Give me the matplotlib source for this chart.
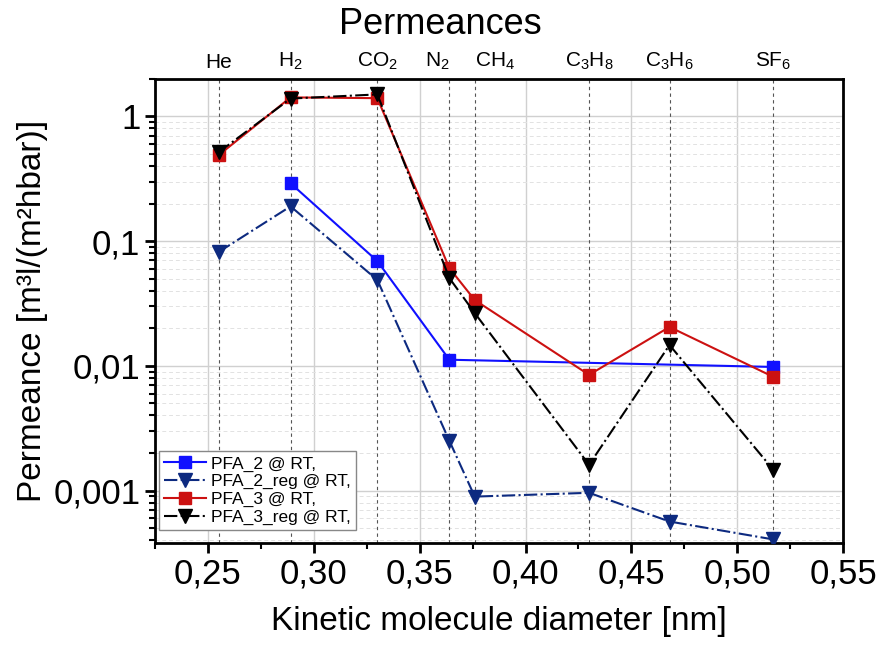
import matplotlib
matplotlib.use('Agg')
from matplotlib import pyplot as plt
from matplotlib.ticker import FixedLocator, FuncFormatter, LogLocator, MultipleLocator, NullFormatter

plt.rcParams['font.family'] = ['Liberation Sans', 'DejaVu Sans']
plt.rcParams['mathtext.fontset'] = 'custom'
plt.rcParams['mathtext.rm'] = 'Liberation Sans'
plt.rcParams['mathtext.it'] = 'Liberation Sans'
plt.rcParams['mathtext.default'] = 'regular'

# gases and kinetic diameters [nm]
gases = ['He', 'H$_2$', 'CO$_2$', 'N$_2$', 'CH$_4$', 'C$_3$H$_8$', 'C$_3$H$_6$', 'SF$_6$']
diameters = [0.255, 0.289, 0.330, 0.364, 0.376, 0.430, 0.468, 0.517]

# PFA_2 only measured for H2, CO2, N2, SF6
pfa2_x = [0.289, 0.330, 0.364, 0.517]
pfa2 = [0.291, 0.0692, 0.0112, 0.0098]

pfa2_reg = [0.0817, 0.19, 0.0488, 0.00251, 0.000895, 0.00096, 0.000565, 0.000406]
pfa3 = [0.488, 1.42, 1.40, 0.0608, 0.0337, 0.00847, 0.0205, 0.00817]
pfa3_reg = [0.515, 1.39, 1.50, 0.0506, 0.0265, 0.00161, 0.0147, 0.00147]

fig = plt.figure(figsize=(8.81, 6.57), dpi=100)
ax = fig.add_axes([0.176, 0.1735, 0.781, 0.7065])

ax.plot(pfa2_x, pfa2, color='#1010ff', linestyle='-', linewidth=1.5,
        marker='s', markersize=9, label='PFA_2 @ RT,', zorder=5)
ax.plot(diameters, pfa2_reg, color='#0d2a80', linestyle='-.', linewidth=1.5,
        marker='v', markersize=10, label='PFA_2_reg @ RT,', zorder=5)
ax.plot(diameters, pfa3, color='#cc1111', linestyle='-', linewidth=1.5,
        marker='s', markersize=9, label='PFA_3 @ RT,', zorder=5)
ax.plot(diameters, pfa3_reg, color='black', linestyle='-.', linewidth=1.5,
        marker='v', markersize=10, label='PFA_3_reg @ RT,', zorder=6)

ax.set_yscale('log')
ax.set_xlim(0.225, 0.55)
ax.set_ylim(3.8e-4, 2.0)

# gas positions as dashed lines
for d in diameters:
    ax.axvline(d, color='#555555', linestyle=(0, (3, 3)), linewidth=0.8, zorder=1)

ax.xaxis.set_major_locator(MultipleLocator(0.05))
ax.xaxis.set_minor_locator(MultipleLocator(0.025))
ax.xaxis.set_major_formatter(FuncFormatter(lambda v, p: ('%.2f' % v).replace('.', ',')))

ax.yaxis.set_major_locator(FixedLocator([0.001, 0.01, 0.1, 1]))
ax.yaxis.set_minor_locator(LogLocator(base=10, subs=range(2, 10)))
ax.yaxis.set_minor_formatter(NullFormatter())
ax.yaxis.set_major_formatter(FuncFormatter(lambda v, p: {0.001: '0,001', 0.01: '0,01', 0.1: '0,1', 1: '1'}.get(round(v, 3), '')))

ax.grid(True, which='major', axis='both', color='#d0d0d0', linewidth=1.0, zorder=0)
ax.grid(True, which='minor', axis='y', color='#e2e2e2', linestyle=(0, (4, 3)), linewidth=0.7, zorder=0)
ax.set_axisbelow(True)

for s in ax.spines.values():
    s.set_linewidth(2)
ax.tick_params(which='major', direction='out', length=7, width=2, labelsize=25)
ax.tick_params(which='minor', direction='out', length=4, width=1.5)

ax.set_xlabel('Kinetic molecule diameter [nm]', fontsize=24)
ax.set_ylabel('Permeance [m³l/(m²hbar)]', fontsize=24)
ax.xaxis.set_label_coords(0.5, -0.135)
ax.yaxis.set_label_coords(-0.155, 0.5)

top = ax.twiny()
top.set_xlim(ax.get_xlim())
top.set_xticks(diameters)
top.set_xticklabels(gases)
top.tick_params(axis='x', length=0, pad=5, labelsize=15)
# N2 and CH4 sit close together: push the labels apart
top_labels = top.get_xticklabels()
top_labels[3].set_ha('right')
top_labels[4].set_ha('left')
for s in top.spines.values():
    s.set_visible(False)

fig.text(0.5, 0.962, 'Permeances', ha='center', va='center', fontsize=26)

leg = ax.legend(loc='lower left', bbox_to_anchor=(0.006, 0.027), borderaxespad=0,
                fontsize=12.5, handlelength=2.4, handletextpad=0.3, labelspacing=0.15,
                borderpad=0.3, fancybox=False, framealpha=1, edgecolor='#888888')
leg.get_frame().set_linewidth(1.0)

fig.savefig('out.png', dpi=100)
